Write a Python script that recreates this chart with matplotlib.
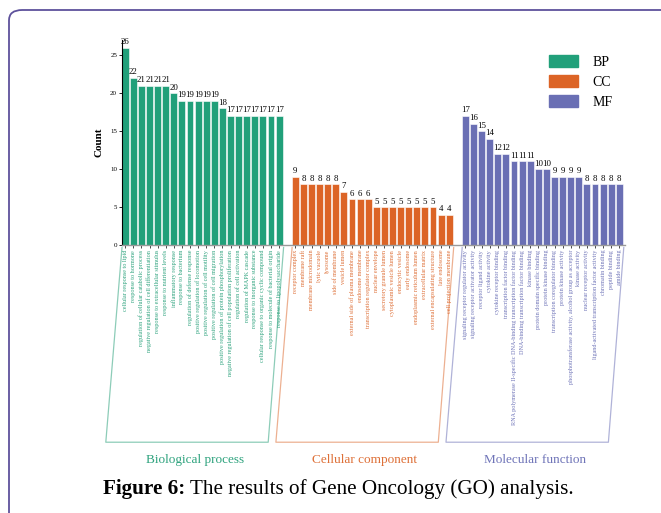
import numpy as np
import matplotlib
matplotlib.use("Agg")
import matplotlib.pyplot as plt
from matplotlib.patches import FancyBboxPatch, Patch

plt.rcParams['font.family'] = ['Liberation Serif', 'DejaVu Serif']

# GO terms and counts
bp_terms = ["cellular response to lipid", "response to hormone",
            "regulation of cellular catabolic process",
            "negative regulation of cell differentiation",
            "response to extracellular stimulus", "response to nutrient levels",
            "inflammatory response", "response to bacterium",
            "regulation of defense response", "positive regulation of locomotion",
            "positive regulation of cell motility",
            "positive regulation of cell migration",
            "positive regulation of protein phosphorylation",
            "negative regulation of cell population proliferation",
            "regulation of cell activation", "regulation of MAPK cascade",
            "response to inorganic substance",
            "cellular response to organic cyclic compound",
            "response to molecule of bacterial origin",
            "response to lipopolysaccharide"]
bp_counts = [26, 22, 21, 21, 21, 21, 20, 19, 19, 19, 19, 19, 18, 17, 17, 17, 17, 17, 17, 17]

cc_terms = ["receptor complex", "membrane raft", "membrane microdomain",
            "lytic vacuole", "lysosome", "side of membrane", "vesicle lumen",
            "external side of plasma membrane", "endosome membrane",
            "transcription regulator complex", "nuclear envelope",
            "secretory granule lumen", "cytoplasmic vesicle lumen",
            "endocytic vesicle", "early endosome", "endoplasmic reticulum lumen",
            "extracellular matrix", "external encapsulating structure",
            "late endosome", "cell projection membrane"]
cc_counts = [9, 8, 8, 8, 8, 8, 7, 6, 6, 6, 5, 5, 5, 5, 5, 5, 5, 5, 4, 4]

mf_terms = ["signaling receptor regulator activity",
            "signaling receptor activator activity", "receptor ligand activity",
            "cytokine activity", "cytokine receptor binding",
            "transcription factor binding",
            "RNA polymerase II-specific DNA-binding transcription factor binding",
            "DNA-binding transcription factor binding", "kinase binding",
            "protein domain specific binding", "protein kinase binding",
            "transcription coregulator binding", "protein kinase activity",
            "phosphotransferase activity, alcohol group as acceptor",
            "kinase activity", "nuclear receptor activity",
            "ligand-activated transcription factor activity",
            "chromatin binding", "peptide binding", "amide binding"]
mf_counts = [17, 16, 15, 14, 12, 12, 11, 11, 11, 10, 10, 9, 9, 9, 9, 8, 8, 8, 8, 8]

groups = ["BP", "CC", "MF"]
group_names = ["Biological process", "Cellular component", "Molecular function"]
colors = ["#21a07a", "#dc6426", "#6a6fb4"]
label_colors = ["#2fa37e", "#de7038", "#6f74b8"]

fig = plt.figure(figsize=(6.61, 5.13), dpi=100)

# page frame
frame = FancyBboxPatch((9 / 661, -0.2), 1.2, 1.2 - 10 / 513,
                       boxstyle="round,pad=0,rounding_size=0.02",
                       transform=fig.transFigure, fill=False,
                       edgecolor="#5e529c", linewidth=1.3)
fig.patches.append(frame)

ax = fig.add_axes([122 / 661, 1 - 245 / 513, 503 / 661, 205 / 513])

all_terms = []
all_pos = []
all_cols = []
start = 0
spans = []
for terms, counts, c, lc in zip([bp_terms, cc_terms, mf_terms],
                                [bp_counts, cc_counts, mf_counts],
                                colors, label_colors):
    pos = np.arange(len(counts)) + start
    ax.bar(pos, counts, width=0.85, color=c, edgecolor="white", linewidth=0.4)
    for p, v in zip(pos, counts):
        ax.text(p, v + 0.2, str(v), ha="center", va="bottom", fontsize=6.3)
    all_terms += terms
    all_pos += list(pos)
    all_cols += [lc] * len(terms)
    spans.append((pos[0], pos[-1]))
    start = pos[-1] + 2

ax.set_xlim(-0.4, 61.7)
ax.set_ylim(0, 27)
ax.set_yticks([0, 5, 10, 15, 20, 25])
ax.tick_params(axis="y", labelsize=5, length=2, width=0.6, pad=1.5)
ax.set_xticks(all_pos)
ax.set_xticklabels(all_terms, rotation=90, fontsize=4.4)
ax.tick_params(axis="x", length=2, width=0.5, pad=1.5)
for t, c in zip(ax.get_xticklabels(), all_cols):
    t.set_color(c)
ax.set_ylabel("Count", fontsize=8, fontweight="bold", labelpad=5)
for s in ["top", "right"]:
    ax.spines[s].set_visible(False)
ax.spines["left"].set_linewidth(0.8)
ax.spines["bottom"].set_color("#999999")
ax.spines["bottom"].set_linewidth(1.0)

# group brackets and names below tick labels
tr = ax.get_xaxis_transform()
y_top, y_bot = -0.012, -0.962
for (p0, p1), lc, name in zip(spans, label_colors, group_names):
    xl, xr = p0 - 0.4, p1 + 0.55
    ax.plot([xl, xl - 2.0, xr - 1.9, xr], [y_top, y_bot, y_bot, y_top],
            transform=tr, clip_on=False, color=lc, alpha=0.55, linewidth=0.9)
    ax.text((xl + xr) / 2 - 1.0, -1.05, name, transform=tr, ha="center",
            va="center", fontsize=9.5, color=lc)

handles = [Patch(color=c, label=g) for c, g in zip(colors, groups)]
ax.legend(handles=handles, loc="upper right", bbox_to_anchor=(1.0, 0.99),
          frameon=False, fontsize=10, handlelength=2.1, handleheight=1.0,
          labelspacing=0.45, handletextpad=1.0)

# caption: bold lead-in followed by regular text
cap_y = 1 - 489 / 513
t1 = fig.text(103 / 661, cap_y, "Figure 6:", fontsize=15.2,
              fontweight="bold", ha="left", va="center")
fig.canvas.draw()
bb = t1.get_window_extent()
fig.text(bb.x1 / fig.bbox.width, cap_y,
         " The results of Gene Oncology (GO) analysis.", fontsize=15.2,
         ha="left", va="center")

fig.savefig("out.png", dpi=100)
